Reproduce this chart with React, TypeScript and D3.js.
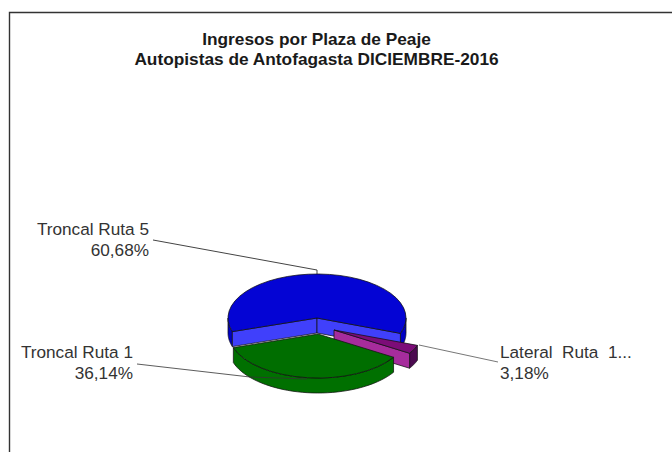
import * as d3 from "d3";

const categories = ["Troncal Ruta 5", "Lateral  Ruta  1...", "Troncal Ruta 1"];
const shares = [60.68, 3.18, 36.14];
const shareLabels = ["60,68%", "3,18%", "36,14%"];
const titleLines = ["Ingresos por Plaza de Peaje", "Autopistas de Antofagasta DICIEMBRE-2016"];

// per slice styles, same order as categories
const topColors = ["#0404d4", "#7c0c78", "#006e00"];
const rimColors = ["#0000c4", "#4c0a50", "#007000"];
const cutColors = ["#4040fb", "#a62c9c", "#007000"];

// exploded centers of the slices
const centers: [number, number][] = [[317, 318], [334, 330], [318, 334]];
const labelPos = [
  { x: 149, y: 235, anchor: "end" },
  { x: 500, y: 358, anchor: "start" },
  { x: 133, y: 358, anchor: "end" },
];
const leaders = [
  [[153, 240], [317, 270], [317, 274]],
  [[419, 345], [498, 362]],
  [[137, 364], [250, 377], [307, 379]],
];

const rx = 89;
const ry = 44;
const depth = 15;

const pieGen = d3.pie<number>().sort(null).startAngle((-108 * Math.PI) / 180).endAngle((252 * Math.PI) / 180);
const arcs = pieGen(shares);
const arcGen = d3.arc<any>().innerRadius(0).outerRadius(rx);
const line = d3.line();

const onRim = (a: number, dy = 0): [number, number] => [rx * Math.sin(a), -ry * Math.cos(a) + dy];

// outer wall between two angles, only the front facing part
function rimPath(a0: number, a1: number) {
  const from = Math.max(a0, Math.PI / 2);
  const to = Math.min(a1, (3 * Math.PI) / 2);
  if (from >= to) return "";
  const steps = d3.range(0, 41).map((i) => from + ((to - from) * i) / 40);
  const pts = [...steps.map((a) => onRim(a)), ...steps.slice().reverse().map((a) => onRim(a, depth))];
  return line(pts) + "Z";
}

// rim seen on the left of the blue slice wraps past 3pi/2 when start angle is negative
function rimPaths(a0: number, a1: number) {
  return [rimPath(a0, a1), rimPath(a0 + 2 * Math.PI, a1 + 2 * Math.PI)].filter(Boolean);
}

function cutPath(a: number) {
  return line([[0, 0], onRim(a), onRim(a, depth), [0, depth]]) + "Z";
}

export default function App() {
  const edge = { stroke: "#111", strokeWidth: 1, strokeOpacity: 0.75 };
  return (
    <svg
      width={672}
      height={452}
      style={{ position: "absolute", left: 0, top: 0, background: "#fff" }}
      fontFamily="'Liberation Sans', Arial, sans-serif"
    >
      <path d="M672,12.5H9.5V452" fill="none" stroke="#333" strokeWidth={1.4} />

      <g textAnchor="middle" fontWeight="bold" fontSize={17.3} fill="#1a1a1a" stroke="none">
        {titleLines.map((t, i) => (
          <text key={t} x={316.5} y={45 + i * 20}>{t}</text>
        ))}
      </g>

      {/* leader lines of blue and green sit under and over the pie */}
      <polyline points={leaders[0].join(" ")} fill="none" stroke="#444" strokeWidth={1} />
      <polyline points={leaders[1].join(" ")} fill="none" stroke="#777" strokeWidth={1} />

      {arcs.map((d, i) => (
        <g key={i} transform={`translate(${centers[i][0]},${centers[i][1]})`}>
          {rimPaths(d.startAngle, d.endAngle).map((p) => (
            <path key={p} d={p} fill={rimColors[i]} {...edge} />
          ))}
          {Math.sin(d.startAngle) < 0 && <path d={cutPath(d.startAngle)} fill={cutColors[i]} {...edge} />}
          {Math.sin(d.endAngle) > 0 && <path d={cutPath(d.endAngle)} fill={cutColors[i]} {...edge} />}
          <path
            d={arcGen(d) as string}
            transform={`scale(1,${ry / rx})`}
            fill={topColors[i]}
            vectorEffect="non-scaling-stroke"
            {...edge}
          />
        </g>
      ))}

      <polyline points={leaders[2].join(" ")} fill="none" stroke="#333" strokeOpacity={0.8} strokeWidth={1} />

      <g fontSize={17.2} fill="#333">
        {categories.map((c, i) => (
          <g key={c} textAnchor={labelPos[i].anchor}>
            <text x={labelPos[i].x} y={labelPos[i].y} style={{ whiteSpace: "pre" }}>{c}</text>
            <text x={labelPos[i].x} y={labelPos[i].y + 21}>{shareLabels[i]}</text>
          </g>
        ))}
      </g>
    </svg>
  );
}
